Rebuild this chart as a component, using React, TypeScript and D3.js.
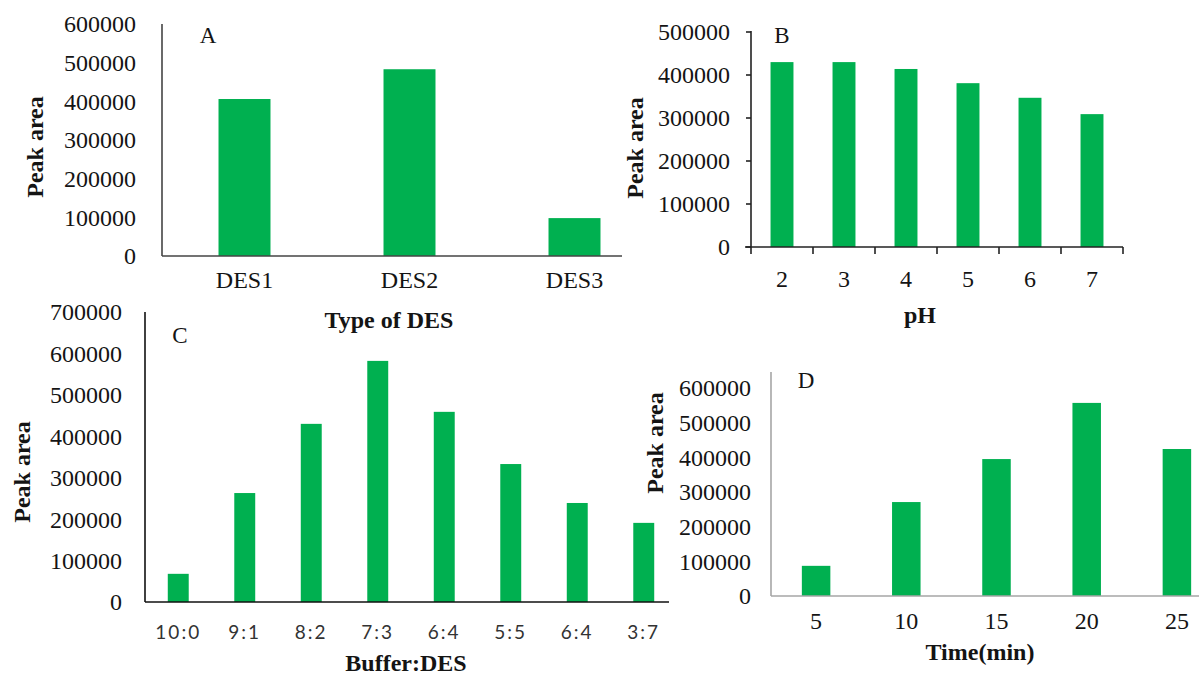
import * as d3 from "d3";

const width = 1199;
const height = 675;

// Panel A: type of DES
const desTypes = ["DES1", "DES2", "DES3"];
const desArea = [406000, 483000, 98000];
const ticksA = [0, 100000, 200000, 300000, 400000, 500000, 600000];

// Panel B: pH
const phLevels = ["2", "3", "4", "5", "6", "7"];
const phArea = [430000, 430000, 414000, 381000, 347000, 309000];
const ticksB = [0, 100000, 200000, 300000, 400000, 500000];

// Panel C: buffer:DES ratio
const ratios = ["10:0", "9:1", "8:2", "7:3", "6:4", "5:5", "6:4", "3:7"];
const ratioArea = [68000, 263000, 430000, 582000, 459000, 333000, 239000, 191000];
const ticksC = [0, 100000, 200000, 300000, 400000, 500000, 600000, 700000];

// Panel D: extraction time
const times = ["5", "10", "15", "20", "25"];
const timeArea = [87000, 271000, 395000, 557000, 424000];
const ticksD = [0, 100000, 200000, 300000, 400000, 500000, 600000];

const green = "#00b050";
const serif = "'Liberation Serif', 'Times New Roman', serif";
const ink = "#141414";

type PanelProps = {
  letter: string;
  cats: string[];
  values: number[];
  ticks: number[];
  xTitle: string;
  // layout
  x0: number;
  x1: number;
  axisEnd: number;
  base: number;
  topVal: number;
  topY: number;
  axisTop: number;
  pad: number;
  axisColor: string;
  tickMarks?: boolean;
  labelGap: number;
  catY: number;
  catFont?: string;
  catSize?: number;
  titleX: number;
  titleY: number;
  yTitleX: number;
  yTitleY: number;
  letterX: number;
  letterY: number;
};

const Panel = (p: PanelProps) => {
  const x = d3
    .scaleBand<string>()
    .domain(p.cats.map((_, i) => String(i)))
    .range([p.x0, p.x1])
    .paddingInner(p.pad)
    .paddingOuter(p.pad / 2);
  const y = d3.scaleLinear().domain([0, p.topVal]).range([p.base, p.topY]);
  const step = x.step();

  return (
    <g>
      {p.values.map((v, i) => (
        <rect
          key={i}
          x={x(String(i))}
          y={y(v)}
          width={x.bandwidth()}
          height={p.base - y(v)}
          fill={green}
        />
      ))}
      {/* y axis */}
      <line x1={p.x0} x2={p.x0} y1={p.axisTop} y2={p.base} stroke={p.axisColor} strokeWidth={1.6} />
      {p.tickMarks &&
        p.ticks.map((t) => (
          <line key={t} x1={p.x0 - 5} x2={p.x0} y1={y(t)} y2={y(t)} stroke={p.axisColor} strokeWidth={1.6} />
        ))}
      {p.ticks.map((t) => (
        <text
          key={t}
          x={p.x0 - p.labelGap}
          y={y(t)}
          dy="0.35em"
          textAnchor="end"
          fontFamily={serif}
          fontSize={24}
          fill={ink}
        >
          {t}
        </text>
      ))}
      {/* x axis */}
      <line
        x1={p.tickMarks ? p.x0 - 6 : p.x0}
        x2={p.axisEnd}
        y1={p.base}
        y2={p.base}
        stroke={p.axisColor}
        strokeWidth={1.6}
      />
      {p.tickMarks &&
        d3.range(p.cats.length + 1).map((i) => (
          <line
            key={i}
            x1={p.x0 + i * step}
            x2={p.x0 + i * step}
            y1={p.base}
            y2={p.base + 7}
            stroke={p.axisColor}
            strokeWidth={1.6}
          />
        ))}
      {p.cats.map((c, i) => (
        <text
          key={i}
          x={(x(String(i)) ?? 0) + x.bandwidth() / 2}
          y={p.catY}
          dy="0.35em"
          textAnchor="middle"
          fontFamily={p.catFont ?? serif}
          fontSize={p.catSize ?? 24}
          letterSpacing={p.catFont ? 2 : 0}
          fill={p.catFont ? "#333" : ink}
        >
          {c}
        </text>
      ))}
      <text
        x={p.titleX}
        y={p.titleY}
        dy="0.35em"
        textAnchor="middle"
        fontFamily={serif}
        fontWeight="bold"
        fontSize={24}
        fill={ink}
      >
        {p.xTitle}
      </text>
      <text
        transform={`translate(${p.yTitleX},${p.yTitleY}) rotate(-90)`}
        dy="0.35em"
        textAnchor="middle"
        fontFamily={serif}
        fontWeight="bold"
        fontSize={24}
        fill={ink}
      >
        Peak area
      </text>
      <text
        x={p.letterX}
        y={p.letterY}
        dy="0.35em"
        textAnchor="middle"
        fontFamily={serif}
        fontSize={23}
        fill={ink}
      >
        {p.letter}
      </text>
    </g>
  );
};

export default function App() {
  return (
    <svg
      width={width}
      height={height}
      style={{ position: "absolute", left: 0, top: 0, background: "#fff" }}
    >
      <Panel
        letter="A"
        cats={desTypes}
        values={desArea}
        ticks={ticksA}
        xTitle="Type of DES"
        x0={162}
        x1={657}
        axisEnd={622}
        base={256}
        topVal={600000}
        topY={24}
        axisTop={24}
        pad={0.685}
        axisColor="#444"
        labelGap={26}
        catY={280}
        titleX={389}
        titleY={320}
        yTitleX={35}
        yTitleY={147}
        letterX={208}
        letterY={35}
      />
      <Panel
        letter="B"
        cats={phLevels}
        values={phArea}
        ticks={ticksB}
        xTitle="pH"
        x0={751}
        x1={1123}
        axisEnd={1123}
        base={247}
        topVal={500000}
        topY={32}
        axisTop={31}
        pad={0.63}
        axisColor="#222"
        tickMarks
        labelGap={21}
        catY={279}
        titleX={920}
        titleY={315}
        yTitleX={635}
        yTitleY={148}
        letterX={782}
        letterY={35}
      />
      <Panel
        letter="C"
        cats={ratios}
        values={ratioArea}
        ticks={ticksC}
        xTitle="Buffer:DES"
        x0={145}
        x1={677}
        axisEnd={669}
        base={602}
        topVal={700000}
        topY={312}
        axisTop={312}
        pad={0.685}
        axisColor="#111"
        labelGap={23}
        catY={632}
        catFont="Lato, 'Open Sans', sans-serif"
        catSize={19}
        titleX={406}
        titleY={663}
        yTitleX={22}
        yTitleY={472}
        letterX={180}
        letterY={335}
      />
      <Panel
        letter="D"
        cats={times}
        values={timeArea}
        ticks={ticksD}
        xTitle="Time(min)"
        x0={771}
        x1={1222}
        axisEnd={1199}
        base={596}
        topVal={600000}
        topY={388}
        axisTop={372}
        pad={0.684}
        axisColor="#a6a6a6"
        labelGap={20}
        catY={621}
        titleX={980}
        titleY={652}
        yTitleX={655}
        yTitleY={443}
        letterX={806}
        letterY={380}
      />
    </svg>
  );
}
